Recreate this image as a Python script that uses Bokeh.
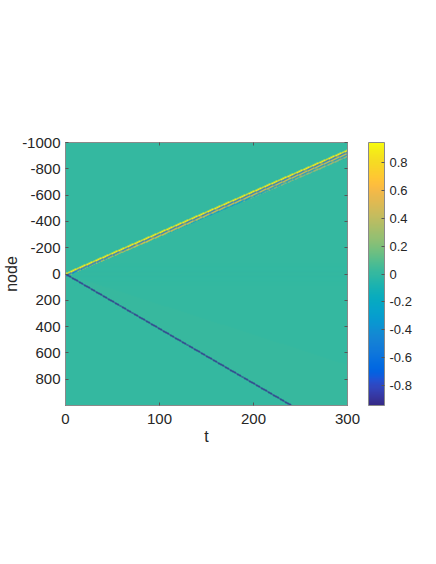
import numpy as np
from bokeh.plotting import figure
from bokeh.models import (LinearColorMapper, ColorBar, FixedTicker, LinearAxis,
                          Range1d)
from bokeh.embed import file_html
from bokeh.resources import INLINE

# ---- data description ----
t_range = [0, 300]
node_range = [-1000, 1000]
x_ticks = [0, 100, 200, 300]
y_ticks = [-1000, -800, -600, -400, -200, 0, 200, 400, 600, 800]
cbar_ticks = [-0.8, -0.6, -0.4, -0.2, 0, 0.2, 0.4, 0.6, 0.8]
clim = [-0.944, 0.944]

# travelling fronts: node position = slope * t
front_slopes = [-3.13, 4.16]
front_peaks = [0.88, -0.93]
front_half_width = [0.9, 0.7]                      # rows
# values of the stripes trailing the upper front (leading edge first)
upper_trail_rows = [-0.6, 0.7, -0.35, 0.4, -0.15]
upper_trail_stripe = 1.4                           # rows per stripe
upper_trail_len_at_t = [[0, 1.5], [300, 6.0]]      # trailing length (rows) at t=0 and t=300
faint_wedge_slopes = [2.3, 4.16]                   # weak texture below the lower front
faint_wedge_amp = 0.025
faint_center_band = [-80, 90]                      # weak texture around node 0
faint_center_amp = 0.035

# parula colormap anchors
parula = [
    (0.2081, 0.1663, 0.5292), (0.2116, 0.1898, 0.5777), (0.2123, 0.2138, 0.6270),
    (0.2081, 0.2386, 0.6771), (0.1959, 0.2645, 0.7279), (0.1707, 0.2919, 0.7792),
    (0.1253, 0.3242, 0.8303), (0.0591, 0.3598, 0.8683), (0.0117, 0.3875, 0.8820),
    (0.0060, 0.4086, 0.8828), (0.0165, 0.4266, 0.8786), (0.0329, 0.4430, 0.8720),
    (0.0498, 0.4586, 0.8641), (0.0629, 0.4737, 0.8554), (0.0723, 0.4887, 0.8467),
    (0.0779, 0.5040, 0.8384), (0.0793, 0.5200, 0.8312), (0.0749, 0.5375, 0.8263),
    (0.0641, 0.5570, 0.8240), (0.0488, 0.5772, 0.8228), (0.0343, 0.5966, 0.8199),
    (0.0265, 0.6137, 0.8135), (0.0239, 0.6287, 0.8038), (0.0231, 0.6418, 0.7913),
    (0.0228, 0.6535, 0.7768), (0.0267, 0.6642, 0.7607), (0.0384, 0.6743, 0.7436),
    (0.0590, 0.6838, 0.7254), (0.0843, 0.6928, 0.7062), (0.1133, 0.7015, 0.6859),
    (0.1453, 0.7098, 0.6646), (0.1801, 0.7177, 0.6424), (0.2178, 0.7250, 0.6193),
    (0.2586, 0.7317, 0.5954), (0.3022, 0.7376, 0.5712), (0.3482, 0.7424, 0.5473),
    (0.3953, 0.7459, 0.5244), (0.4420, 0.7481, 0.5033), (0.4871, 0.7491, 0.4840),
    (0.5300, 0.7491, 0.4661), (0.5709, 0.7485, 0.4494), (0.6099, 0.7473, 0.4337),
    (0.6473, 0.7456, 0.4188), (0.6834, 0.7435, 0.4044), (0.7184, 0.7411, 0.3905),
    (0.7525, 0.7384, 0.3768), (0.7858, 0.7356, 0.3633), (0.8185, 0.7327, 0.3498),
    (0.8507, 0.7299, 0.3360), (0.8824, 0.7274, 0.3217), (0.9139, 0.7258, 0.3063),
    (0.9450, 0.7261, 0.2886), (0.9739, 0.7314, 0.2666), (0.9938, 0.7455, 0.2403),
    (0.9990, 0.7653, 0.2164), (0.9955, 0.7861, 0.1967), (0.9880, 0.8066, 0.1794),
    (0.9789, 0.8271, 0.1633), (0.9697, 0.8481, 0.1475), (0.9626, 0.8705, 0.1309),
    (0.9589, 0.8949, 0.1132), (0.9598, 0.9218, 0.0948), (0.9661, 0.9514, 0.0755),
    (0.9763, 0.9831, 0.0538)]
anc = np.array(parula)
pos = np.linspace(0, 1, len(anc))
q = np.linspace(0, 1, 256)
palette = ["#%02x%02x%02x" % tuple(int(round(255 * np.interp(v, pos, anc[:, k]))) for k in range(3)) for v in q]

# ---- build the field on a grid close to the display resolution ----
ncols, nrows = 282, 263
row_h = (node_range[1] - node_range[0]) / nrows
tc = (np.arange(ncols) + 0.5) * (t_range[1] - t_range[0]) / ncols
nc = node_range[0] + (np.arange(nrows) + 0.5) * row_h
T, N = np.meshgrid(tc, nc)
I, J = np.meshgrid(np.arange(ncols), np.arange(nrows))
checker = np.where((I + J) % 2 == 0, 1.0, -1.0)
field = np.zeros((nrows, ncols))

for k in range(2):
    c = front_slopes[k] * T
    sgn = np.sign(front_slopes[k])
    s = (N - c) / row_h * (-sgn)        # rows behind the leading edge
    hw = front_half_width[k]
    field += np.where(np.abs(s) < hw, front_peaks[k], 0.0)
    if k == 0:
        (t0, l0), (t1, l1) = upper_trail_len_at_t
        length = l0 + (l1 - l0) * (T - t0) / (t1 - t0)
        d = s - hw                                  # distance behind the front
        idx = np.floor(d / upper_trail_stripe).astype(int)
        trail = np.zeros_like(field)
        for r, v in enumerate(upper_trail_rows):
            sel = (idx == r) & (d >= 0) & (d < length)
            trail += np.where(sel, v, 0.0)
        trail = np.where(trail != 0, trail + 0.12 * checker, 0.0)
        field += trail

# faint textures
lo = faint_wedge_slopes[0] * T
hi = faint_wedge_slopes[1] * T
wedge = (N > lo) & (N < hi - 1.5 * row_h)
field += np.where(wedge, faint_wedge_amp * (0.5 + 0.5 * checker), 0.0)
band = (N > faint_center_band[0]) & (N < faint_center_band[1]) & (T > 10)
field += np.where(band, faint_center_amp * checker * np.cos(N / 25.0) ** 2, 0.0)
field = np.clip(field, clim[0], clim[1])

# ---- figure ----
W_PAGE, H_PAGE = 436, 564
p = figure(width=W_PAGE, height=H_PAGE, output_backend="svg", toolbar_location=None,
           x_range=Range1d(t_range[0], t_range[1]),
           y_range=Range1d(node_range[1], node_range[0]),
           min_border_left=65, min_border_right=10, min_border_top=142,
           min_border_bottom=20, frame_width=282, frame_height=263)
p.background_fill_color = "white"
p.border_fill_color = "white"
p.outline_line_color = "#8a8a8a"
p.grid.visible = False

mapper = LinearColorMapper(palette=palette, low=clim[0], high=clim[1])
p.image(image=[field], x=t_range[0], y=node_range[0],
        dw=t_range[1] - t_range[0], dh=node_range[1] - node_range[0],
        color_mapper=mapper)

def fmt(v):
    return "%g" % v

font = "Liberation Sans"
for ax in (p.xaxis[0], p.yaxis[0]):
    ax.axis_line_color = "#8a8a8a"
    ax.major_tick_line_color = "#555555"
    ax.minor_tick_line_color = None
    ax.major_tick_in = 3
    ax.major_tick_out = 0
    ax.major_label_text_font = font
    ax.major_label_text_font_size = "15px"
    ax.major_label_text_color = "#262626"
    ax.axis_label_text_font = font
    ax.axis_label_text_font_size = "16px"
    ax.axis_label_text_font_style = "normal"
    ax.axis_label_text_color = "#262626"
p.xaxis.ticker = FixedTicker(ticks=x_ticks)
p.yaxis.ticker = FixedTicker(ticks=y_ticks)
p.xaxis.major_label_overrides = {v: fmt(v) for v in x_ticks}
p.yaxis.major_label_overrides = {v: fmt(v) for v in y_ticks}
p.xaxis.major_label_standoff = 8
p.yaxis.major_label_standoff = 5
p.xaxis.axis_label = "t"
p.xaxis.axis_label_standoff = 1
p.yaxis.axis_label = "node"
p.yaxis.axis_label_standoff = -1

top = LinearAxis(ticker=FixedTicker(ticks=x_ticks),
                 major_label_overrides={v: "" for v in x_ticks},
                 major_label_standoff=0, major_tick_in=3, major_tick_out=0,
                 minor_tick_line_color=None, axis_line_color="#8a8a8a",
                 major_tick_line_color="#555555")
p.add_layout(top, "above")
right = LinearAxis(ticker=FixedTicker(ticks=y_ticks),
                   major_label_overrides={v: "" for v in y_ticks},
                   major_label_standoff=0, major_tick_in=3, major_tick_out=0,
                   minor_tick_line_color=None, axis_line_color="#8a8a8a",
                   major_tick_line_color="#555555")
p.add_layout(right, "right")
# invisible spacer axis that opens the gap between the frame and the colour bar
gap = LinearAxis(ticker=FixedTicker(ticks=y_ticks),
                 major_label_overrides={v: "" for v in y_ticks},
                 major_label_standoff=0, major_tick_in=0, major_tick_out=21,
                 minor_tick_line_color=None, axis_line_color=None,
                 major_tick_line_color=None)
p.add_layout(gap, "right")

cb = ColorBar(color_mapper=mapper, ticker=FixedTicker(ticks=cbar_ticks),
              major_label_overrides={v: fmt(v) for v in cbar_ticks},
              width=16, padding=0, margin=0, bar_line_color="#8a8a8a",
              major_tick_in=3, major_tick_out=0, major_tick_line_color="#555555",
              minor_tick_line_color=None,
              major_label_text_font=font, major_label_text_font_size="13px",
              major_label_text_color="#262626", label_standoff=5,
              background_fill_color=None, border_line_color=None)
p.add_layout(cb, "right")

open("out.html", "w").write(file_html(p, INLINE))
